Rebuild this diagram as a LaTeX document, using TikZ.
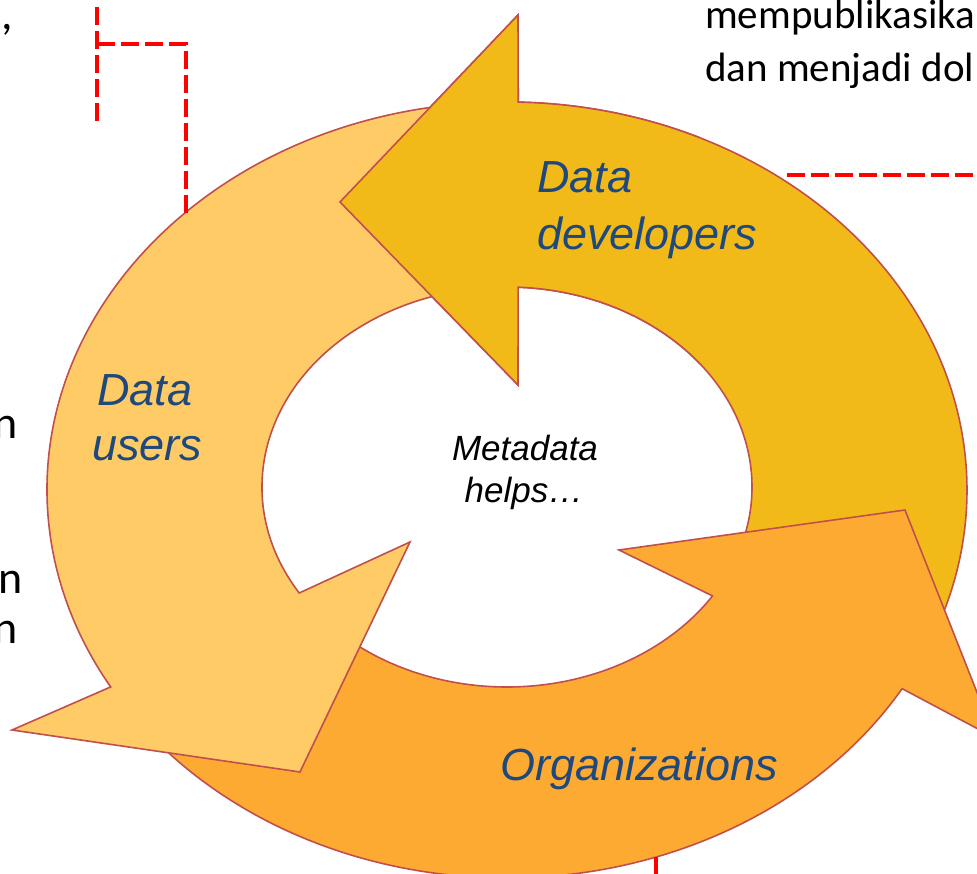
\documentclass[tikz,border=0pt]{standalone}
\usepackage{fontspec}
\setmainfont{Carlito}
\newfontfamily\lblfont{Liberation Sans}
\definecolor{devclr}{HTML}{F2BA18}
\definecolor{usrclr}{HTML}{FECB66}
\definecolor{orgclr}{HTML}{FDAA32}
\definecolor{rimclr}{HTML}{C0504D}
\definecolor{txtclr}{HTML}{1F497D}
\definecolor{linkclr}{HTML}{FF0000}

\newcommand{\devarrow}{({507+460*cos(-88.6)},{490+388*sin(-88.6)}) arc[start angle=-88.6,end angle=20,x radius=460,y radius=388]
  -- ({507+245*cos(20)},{487+200*sin(20)}) arc[start angle=20,end angle=-87.4,x radius=245,y radius=200]
  -- (518,385) -- (340,202) -- (518,15) -- cycle}
\newcommand{\usrarrow}{(12,730) -- (300,772) -- (410,542)
  -- ({507+245*cos(148)},{487+200*sin(148)}) arc[start angle=148,end angle=265,x radius=245,y radius=200]
  -- ({507+460*cos(265)},{490+388*sin(265)}) arc[start angle=265,end angle=149.5,x radius=460,y radius=388]
  -- cycle}
\newcommand{\orgarrow}{(619,550) -- (905,510) -- (995,738)
  -- ({507+460*cos(30.8)},{490+388*sin(30.8)}) arc[start angle=30.8,end angle=140,x radius=460,y radius=388]
  -- ({507+245*cos(140)},{487+200*sin(140)}) arc[start angle=140,end angle=33,x radius=245,y radius=200]
  -- cycle}

\begin{document}
\begin{tikzpicture}
  [x=1pt,y=-1pt,every node/.style={inner sep=0pt},
   cyc/.style={draw=rimclr,line width=1.6pt,line join=miter},
   lbl/.style={font=\lblfont\itshape\fontsize{45}{54}\selectfont,text=txtclr,anchor=base west},
   hub/.style={font=\lblfont\itshape\fontsize{35}{42}\selectfont,anchor=base},
   body/.style={font=\fontsize{41}{50}\selectfont,anchor=base west},
   side/.style={font=\fontsize{46}{50}\selectfont,anchor=base east},
   link/.style={draw=linkclr,line width=4.5pt,dash pattern=on 18pt off 6pt}]
  \useasboundingbox (0,0) rectangle (977,874);
  \clip (0,0) rectangle (977,874);

  \draw[cyc,fill=devclr] \devarrow;
  \draw[cyc,fill=orgclr] \orgarrow;
  \draw[cyc,fill=usrclr] \usrarrow;
  \begin{scope}
    \clip (0,0) rectangle (700,460);
    \draw[cyc,fill=devclr] \devarrow;
  \end{scope}

  \node[lbl] (devA) at (537,193) {Data};
  \node[lbl] (devB) at (537,250) {developers};
  \node[lbl] (usrA) at (97,405) {Data};
  \node[lbl] (usrB) at (92,460) {users};
  \node[lbl] (org) at (500,780) {Organizations};
  \node[hub] (hubA) at (525,460) {Metadata};
  \node[hub] (hubB) at (524,502) {helps…};

  \node[body] (pubA) at (705,29) {mempublikasika};
  \node[body] (pubB) at (705,82) {dan menjadi dol};
  \node[side,anchor=base west] (cma) at (1,30) {,};
  \node[side] (endA) at (18,438) {n};
  \node[side] (endB) at (23,593) {n};
  \node[side] (endC) at (18,643) {n};

  \coordinate (u1) at (97,7);
  \coordinate (u2) at (97,121);
  \coordinate (uj) at (97,44);
  \coordinate (ue) at (186,213);
  \coordinate (de) at (787,175);
  \coordinate (dr) at (990,175);
  \coordinate (oe) at (656,857);
  \coordinate (ob) at (656,890);

  \foreach \from/\to in {u1/u2,de/dr,oe/ob}
    \draw[link] (\from) -- (\to);
  \draw[link] (uj) -| (ue);
\end{tikzpicture}
\end{document}
